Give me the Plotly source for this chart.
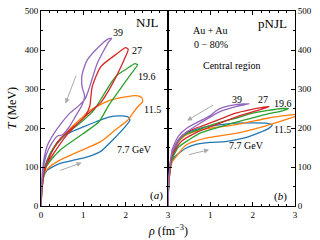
import plotly.graph_objects as go

energies = ["7.7", "11.5", "19.6", "27", "39"]
colors = ["#1f77b4", "#ff7f0e", "#2ca02c", "#d62728", "#9467bd"]

# NJL (panel a)
njl_rho_77 = [0, 0.02, 0.06, 0.15, 0.42, 0.8, 1.1, 1.41, 1.7, 2.0, 2.1, 2.06, 1.9, 1.6, 1.3, 1.0, 0.75, 0.58, 0.4, 0.22, 0.09, 0.02]
njl_T_77 = [0, 40, 75, 92, 108, 118, 126, 140, 170, 205, 220, 228, 231, 228, 216, 203, 192, 182, 162, 135, 100, 50]
njl_rho_115 = [0, 0.03, 0.08, 0.2, 0.4, 0.9, 1.41, 1.75, 2.05, 2.25, 2.4, 2.38, 2.25, 2.0, 1.65, 1.17, 0.95, 0.75, 0.58, 0.38, 0.2, 0.07, 0.01]
njl_T_115 = [0, 50, 85, 100, 115, 140, 165, 195, 220, 250, 268, 278, 283, 280, 272, 246, 225, 205, 185, 162, 128, 80, 30]
njl_rho_196 = [0, 0.03, 0.1, 0.18, 0.46, 1.0, 1.37, 1.6, 1.9, 2.15, 2.28, 2.22, 2.0, 1.8, 1.65, 1.45, 1.25, 1.0, 0.75, 0.56, 0.36, 0.18, 0.06, 0.01]
njl_T_196 = [0, 50, 95, 110, 144, 186, 216, 258, 304, 342, 362, 365, 350, 336, 315, 280, 246, 220, 198, 183, 160, 125, 80, 30]
njl_rho_27 = [0, 0.03, 0.1, 0.3, 0.58, 0.9, 1.2, 1.41, 1.65, 1.96, 2.06, 2.0, 1.8, 1.41, 1.21, 1.15, 1.05, 0.85, 0.6, 0.4, 0.2, 0.07, 0.01]
njl_T_27 = [0, 60, 100, 135, 178, 215, 245, 265, 306, 374, 402, 406, 391, 357, 306, 255, 232, 210, 188, 165, 125, 85, 30]
njl_rho_39 = [0, 0.02, 0.07, 0.15, 0.3, 0.5, 0.7, 0.9, 1.05, 1.15, 1.33, 1.6, 1.67, 1.58, 1.41, 1.09, 0.97, 0.97, 1.03, 0.97, 0.81, 0.65, 0.5, 0.4, 0.25, 0.12, 0.04, 0.0]
njl_T_39 = [0, 70, 120, 155, 185, 215, 240, 258, 276, 306, 366, 421, 430, 428, 413, 374, 336, 306, 282, 259, 229, 200, 182, 180, 160, 130, 80, 20]

# pNJL (panel b)
pnjl_rho_77 = [0, 0.02, 0.06, 0.15, 0.42, 0.66, 1.0, 1.36, 1.7, 1.91, 2.2, 2.38, 2.46, 2.35, 2.0, 1.52, 1.2, 0.89, 0.6, 0.42, 0.25, 0.12, 0.04, 0.0]
pnjl_T_77 = [0, 60, 100, 125, 148, 158, 163, 165, 172, 178, 190, 199, 208, 212, 213, 212, 208, 203, 194, 186, 165, 130, 85, 20]
pnjl_rho_115 = [0, 0.02, 0.08, 0.19, 0.42, 0.89, 1.6, 2.23, 2.6, 3.0, 3.2, 3.2, 3.0, 2.58, 2.35, 1.57, 0.78, 0.4, 0.2, 0.08, 0.02]
pnjl_T_115 = [0, 60, 110, 126, 156, 174, 186, 203, 215, 229, 236, 239, 235, 229, 225, 208, 195, 180, 160, 120, 60]
pnjl_rho_196 = [0, 0.02, 0.08, 0.24, 0.5, 0.78, 1.2, 1.57, 2.0, 2.36, 2.7, 2.85, 2.7, 2.36, 1.96, 1.57, 1.2, 0.78, 0.4, 0.2, 0.08, 0.02]
pnjl_T_196 = [0, 60, 115, 150, 170, 188, 202, 214, 226, 236, 244, 250, 250, 245, 237, 224, 214, 198, 183, 160, 125, 60]
pnjl_rho_27 = [0, 0.02, 0.08, 0.31, 0.7, 1.17, 1.6, 1.96, 2.2, 2.39, 2.2, 1.96, 1.6, 1.17, 0.8, 0.45, 0.25, 0.1, 0.03]
pnjl_T_27 = [0, 65, 125, 165, 190, 210, 228, 240, 248, 255, 252, 247, 238, 220, 205, 190, 170, 135, 70]
pnjl_rho_39 = [0, 0.02, 0.08, 0.25, 0.47, 0.8, 1.1, 1.3, 1.6, 1.92, 1.6, 1.3, 1.15, 1.0, 0.7, 0.45, 0.25, 0.1, 0.03]
pnjl_T_39 = [0, 70, 130, 170, 192, 215, 235, 245, 255, 262, 260, 253, 245, 232, 215, 200, 180, 145, 80]

njl_rho = [njl_rho_77, njl_rho_115, njl_rho_196, njl_rho_27, njl_rho_39]
njl_T = [njl_T_77, njl_T_115, njl_T_196, njl_T_27, njl_T_39]
pnjl_rho = [pnjl_rho_77, pnjl_rho_115, pnjl_rho_196, pnjl_rho_27, pnjl_rho_39]
pnjl_T = [pnjl_T_77, pnjl_T_115, pnjl_T_196, pnjl_T_27, pnjl_T_39]

# energy label positions
njl_lab_rho = [2.2, 2.64, 2.5, 2.26, 1.82]
njl_lab_T = [146, 248, 333, 400, 445]
pnjl_lab_rho = [1.86, 2.7, 2.72, 2.25, 1.62]
pnjl_lab_T = [154, 197, 262, 274, 274]
lab_text = ["7.7 GeV", "11.5", "19.6", "27", "39"]

FONT = "Liberation Serif"

fig = go.Figure()
for i in range(5):
    fig.add_trace(go.Scatter(x=njl_rho[i], y=njl_T[i], mode="lines",
                             line=dict(color=colors[i], width=1.3, shape="spline", smoothing=0.6),
                             xaxis="x", yaxis="y", showlegend=False))
    fig.add_trace(go.Scatter(x=pnjl_rho[i], y=pnjl_T[i], mode="lines",
                             line=dict(color=colors[i], width=1.3, shape="spline", smoothing=0.6),
                             xaxis="x2", yaxis="y2", showlegend=False))

ann = []
for i in range(5):
    ann.append(dict(x=njl_lab_rho[i], y=njl_lab_T[i], xref="x", yref="y", text=lab_text[i],
                    showarrow=False, font=dict(size=10, family=FONT, color="black")))
    ann.append(dict(x=pnjl_lab_rho[i], y=pnjl_lab_T[i], xref="x2", yref="y2", text=lab_text[i],
                    showarrow=False, font=dict(size=10, family=FONT, color="black")))

texts = [
    dict(x=2.5, y=471, xref="x", yref="y", text="NJL", size=13),
    dict(x=2.46, y=468, xref="x2", yref="y2", text="pNJL", size=13),
    dict(x=1.01, y=449, xref="x2", yref="y2", text="Au + Au", size=10),
    dict(x=1.01, y=415, xref="x2", yref="y2", text="0 − 80%", size=10),
    dict(x=1.5, y=360, xref="x2", yref="y2", text="Central region", size=10),
    dict(x=2.72, y=28, xref="x", yref="y", text="(<i>a</i>)", size=11),
    dict(x=2.66, y=25, xref="x2", yref="y2", text="(<i>b</i>)", size=11),
]
for t in texts:
    ann.append(dict(x=t["x"], y=t["y"], xref=t["xref"], yref=t["yref"], text=t["text"],
                    showarrow=False, font=dict(size=t["size"], family=FONT, color="black")))

# gray arrows
arrows = [
    ("x", "y", 0.84, 338, 0.58, 263),
    ("x", "y", 0.42, 90, 0.96, 111),
    ("x2", "y2", 1.1, 261, 0.45, 219),
    ("x2", "y2", 0.46, 131, 0.97, 144),
]
for xr, yr, x0, y0, x1, y1 in arrows:
    ann.append(dict(x=x1, y=y1, ax=x0, ay=y0, xref=xr, yref=yr, axref=xr, ayref=yr,
                    showarrow=True, arrowhead=2, arrowsize=1, arrowwidth=1, arrowcolor="#aaaaaa", text=""))

ann.append(dict(x=0.5, y=-0.075, xref="paper", yref="paper", text="<i>ρ</i> (fm<sup>−3</sup>)",
                showarrow=False, xanchor="center", yanchor="top", font=dict(size=12, family=FONT, color="black")))
ann.append(dict(x=-0.115, y=0.5, xref="paper", yref="paper", text="<i>T</i> (MeV)", textangle=-90,
                showarrow=False, xanchor="center", yanchor="middle", font=dict(size=12, family=FONT, color="black")))

axis_common = dict(showline=True, linecolor="black", linewidth=1, mirror="ticks", ticks="inside",
                   ticklen=4, tickcolor="black", showgrid=False, zeroline=False, automargin=False,
                   tickfont=dict(size=9, family=FONT, color="black"))

fig.update_layout(
    width=320, height=240, margin=dict(l=41, r=25, t=11, b=34, autoexpand=False),
    plot_bgcolor="white", paper_bgcolor="white", annotations=ann,
    xaxis=dict(domain=[0, 0.5], range=[0, 3], tickvals=[0, 1, 2, 3], anchor="y",
               minor=dict(ticks="inside", dtick=0.2, ticklen=2, tickcolor="black"), **axis_common),
    xaxis2=dict(domain=[0.5, 1], range=[0, 3], tickvals=[1, 2, 3], anchor="y2",
                minor=dict(ticks="inside", dtick=0.2, ticklen=2, tickcolor="black"), **axis_common),
    yaxis=dict(range=[0, 500], tickvals=[0, 100, 200, 300, 400, 500], anchor="x",
               minor=dict(ticks="inside", dtick=50, ticklen=2, tickcolor="black"), **axis_common),
    yaxis2=dict(range=[0, 500], tickvals=[0, 100, 200, 300, 400, 500], anchor="x2", side="right",
                minor=dict(ticks="inside", dtick=50, ticklen=2, tickcolor="black"), **axis_common),
)

fig.write_html("out.html", config={"displayModeBar": False},
               post_script="document.body.style.margin='0px';document.body.style.overflow='hidden';")
